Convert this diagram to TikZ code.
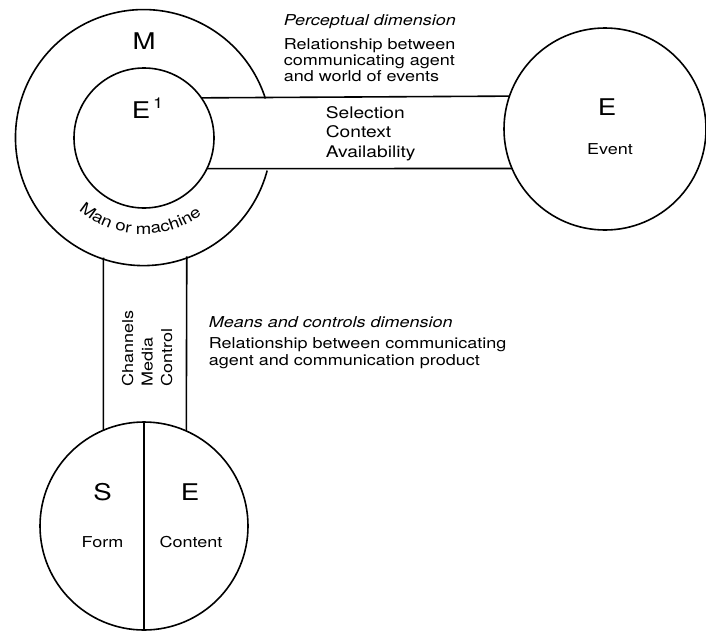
\documentclass[tikz,border=0pt]{standalone}
\usepackage{fontspec}
\setmainfont{TeX Gyre Heros}[FakeStretch=1.2]
\usetikzlibrary{positioning,decorations.text}
\tikzset{
  circ/.style={circle,inner sep=0pt,outer sep=0pt,minimum size=#1},
  bigltr/.style={font=\fontsize{23}{23}\selectfont,inner sep=0pt},
  lbl/.style={font=\fontsize{15}{15}\selectfont,inner sep=0pt},
  txt/.style={font=\fontsize{15}{16}\selectfont,align=left,inner sep=0pt},
  ttl/.style={font=\fontsize{15}{16}\selectfont\itshape,inner sep=0pt},
}

\begin{document}
\begin{tikzpicture}[x=1pt,y=1pt,line width=1.6pt]
  \useasboundingbox (0,0) rectangle (706,-632) ;
%
  \node [circ=256pt] (man) at (143,-136) {} ;
  \node [circ=140pt,draw] (self) at (144,-138) {} ;
  \node [circ=202pt,draw] (event) at (605,-129) {} ;
  \node [circ=208pt,draw] (prod) at (144,-526) {} ;
%
  % outer ring, open where the band comes in
  \draw (man.17.74) arc [start angle=17.74,end angle=345.06,radius=128pt] ;
  \draw (self.35.85) -- (event.161.53) ;
  \draw (self.-26.29) -- (event.203.33) ;
  \draw (man.-108.21) -- (prod.113.22) ;
  \draw (man.-70.37) -- (prod.66.18) ;
  \draw (prod.north) -- (prod.south) ;
%
  \node [bigltr] (m) at (144,-41.5) {M} ;
  \node [bigltr,anchor=base] (e1) at (141,-118)
    {E\rlap{\hspace{3pt}\raisebox{10pt}{\fontsize{15}{15}\selectfont 1}}} ;
  \path [decorate,decoration={text along path,text align=center,
         text={|\fontsize{15.5}{15.5}\selectfont|Man or machine}}]
    ([shift={(-150:98pt)}]man.center) arc [start angle=-150,end angle=-34,radius=98pt] ;
%
  \node [bigltr] (ev) at (607,-107) {E} ;
  \node [lbl,anchor=base] (evt) at (610,-154) {Event} ;
  \node [bigltr] (s) at (102.5,-492.5) {S} ;
  \node [bigltr] (c) at (190,-492.5) {E} ;
  \node [lbl,anchor=base] (form) at (102.5,-547) {Form} ;
  \node [lbl,anchor=base] (cont) at (191,-547) {Content} ;
%
  \node [ttl,anchor=base west] (perc) at (283,-25) {Perceptual dimension} ;
  \node [txt,anchor=base west] (rela) at (283,-81)
    {Relationship between\\communicating agent\\and world of events} ;
  \node [txt,font=\fontsize{16}{19.5}\selectfont,anchor=base west] (sel) at (325,-157)
    {Selection\\Context\\Availability} ;
  \node [ttl,anchor=base west] (means) at (208,-327) {Means and controls dimension} ;
  \node [txt,font=\fontsize{15}{17.5}\selectfont,anchor=base west] (relb) at (208,-365.5)
    {Relationship between communicating\\agent and communication product} ;
  \node [txt,font=\fontsize{15}{19.5}\selectfont,rotate=90,anchor=base west] (chan) at (172,-387)
    {Channels\\Media\\Control} ;
%
\end{tikzpicture}
\end{document}
